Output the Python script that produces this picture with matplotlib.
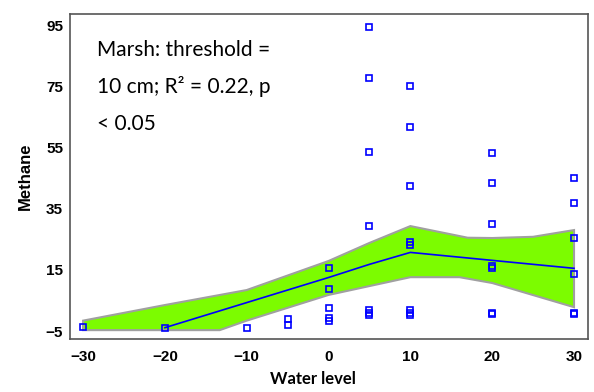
import numpy as np
import matplotlib
matplotlib.use('Agg')
import matplotlib.pyplot as plt

# observations (water level, methane)
obs_x = [-30, -20, -10,
         -5, -5,
         0, 0, 0, 0, 0,
         5, 5, 5, 5, 5, 5, 5,
         10, 10, 10, 10, 10, 10, 10, 10,
         20, 20, 20, 20, 20, 20, 20,
         30, 30, 30, 30, 30, 30]
obs_y = [-3.7, -4.0, -4.0,
         -1.0, -3.0,
         15.7, 8.9, 2.6, -0.8, -1.6,
         94.4, 77.8, 53.4, 29.3, 1.8, 1.0, 0.2,
         75.2, 61.8, 42.5, 24.0, 23.2, 1.8, 1.0, 0.2,
         53.1, 43.3, 29.9, 16.3, 15.7, 1.0, 0.5,
         45.1, 36.9, 25.3, 13.6, 1.0, 0.5]

# fitted segmented regression
fit_x = [-20, -10, 0, 5, 10, 20, 30]
fit_y = [-3.9, 4.3, 12.5, 16.8, 20.7, 18.1, 15.5]

# confidence band
up_x = [-30, -20, -10, 0, 5, 10, 17, 20, 25, 30]
up_y = [-1.6, 3.5, 8.4, 17.9, 23.8, 29.3, 25.5, 25.4, 25.8, 28.0]
lo_x = [-30, -13.3, -10, 0, 5, 10, 16, 20, 30]
lo_y = [-4.7, -4.7, -1.6, 6.8, 9.7, 12.6, 12.6, 10.7, 2.8]

xticks = [-30, -20, -10, 0, 10, 20, 30]
yticks = [-5, 15, 35, 55, 75, 95]

note_lines = ['Marsh: threshold =', '10 cm; R\u00b2 = 0.22, p', '< 0.05']

fig = plt.figure(figsize=(5.94, 3.92), dpi=100)
ax = fig.add_axes([0.1178, 0.1352, 0.872, 0.829])

ax.fill(np.r_[up_x, lo_x[::-1]], np.r_[up_y, lo_y[::-1]],
        facecolor='#7cfc00', edgecolor='#a0a0a0', linewidth=1.5, zorder=1)
ax.plot(fit_x, fit_y, color='#0000ff', linewidth=1.2, zorder=2)
ax.plot(obs_x, obs_y, linestyle='none', marker='s', markersize=3.8,
        markerfacecolor='none', markeredgecolor='#0000ff', markeredgewidth=1.2, zorder=3)

ax.set_xlim(-31.6, 31.7)
ax.set_ylim(-7.6, 98.6)
ax.set_xticks(xticks)
ax.set_yticks(yticks)
ax.tick_params(length=0, labelsize=11)
ax.tick_params(axis='x', pad=8)
ax.tick_params(axis='y', pad=5)
for lab in ax.get_xticklabels() + ax.get_yticklabels():
    lab.set_fontfamily('Liberation Sans')
    lab.set_fontweight('bold')

for s in ax.spines.values():
    s.set_color('#555555')
    s.set_linewidth(1.2)

ax.set_xlabel('Water level', fontsize=12, fontweight='bold', family='Lato')
ax.set_ylabel('Methane', fontsize=12, fontweight='bold', family='Liberation Sans', labelpad=9)
ax.xaxis.set_label_coords(0.47, -0.10)

# one text per line so the superscript does not stretch the spacing
for i, line in enumerate(note_lines):
    ax.text(0.052, 0.871 - i * 0.114, line, transform=ax.transAxes,
            ha='left', va='baseline', fontsize=15, family='Lato')

fig.savefig('out.png', dpi=100)
